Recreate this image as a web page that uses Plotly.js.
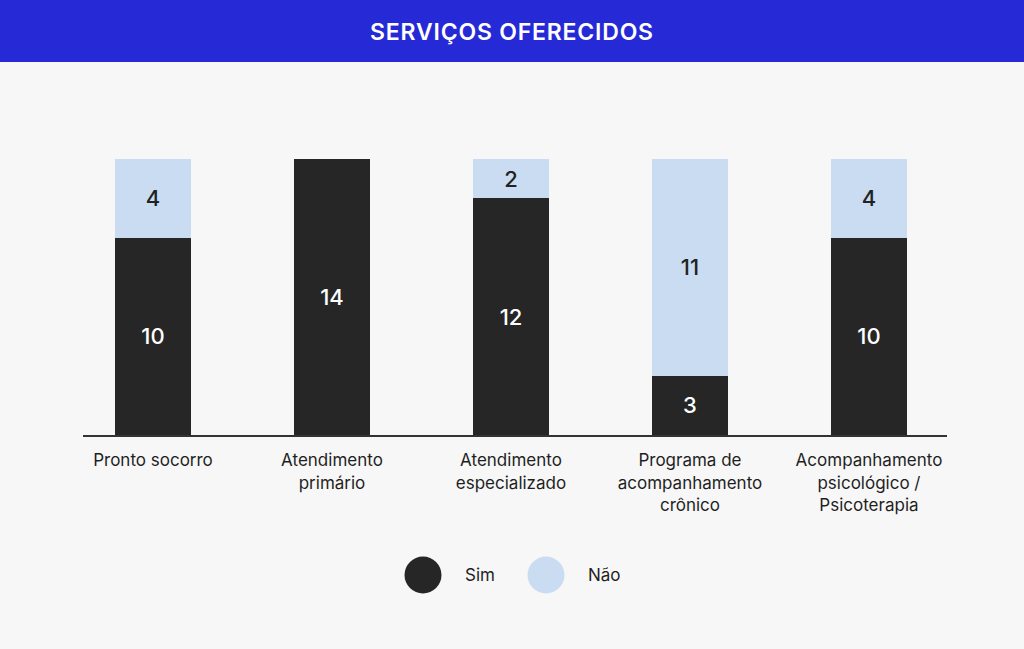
<!DOCTYPE html>
<html>
<head>
<meta charset="utf-8">
<script src="https://cdn.plot.ly/plotly-3.0.1.min.js"></script>
<style>html,body{margin:0;padding:0;background:#f7f7f7;}#chart{width:1024px;height:649px;}
.gtitle{letter-spacing:0.8px;}</style>
</head>
<body>
<div id="chart"></div>
<script>
const categories = ["Pronto socorro", "Atendimento<br>primário", "Atendimento<br>especializado", "Programa de<br>acompanhamento<br>crônico", "Acompanhamento<br>psicológico /<br>Psicoterapia"];
const sim = [10, 14, 12, 3, 10];
const nao = [4, 0, 2, 11, 4];
const seriesNames = ["Sim", "Não"];
const titleText = "SERVIÇOS OFERECIDOS";

const W = 1024, H = 649;
const L = 83, R = 77, T = 159, B = 214;
const pw = W - L - R, ph = H - T - B;
const px2x = p => (p - L) / pw;
const py2y = p => (H - B - p) / ph;

const FONT = "Inter, 'Open Sans', sans-serif";
const dark = "#262626", light = "#c9dcf1";
const idx = categories.map((_, i) => i);

const traces = [
  {type: "bar", x: idx, y: sim, name: seriesNames[0], marker: {color: dark},
   width: 0.425, text: sim.map(v => v ? String(v) : ""), textposition: "inside",
   insidetextanchor: "middle", textangle: 0,
   textfont: {color: "#ffffff", size: 22, family: FONT, weight: 500}, hoverinfo: "none"},
  {type: "bar", x: idx, y: nao, name: seriesNames[1], marker: {color: light},
   width: 0.425, text: nao.map(v => v ? String(v) : ""), textposition: "inside",
   insidetextanchor: "middle", textangle: 0,
   textfont: {color: "#222222", size: 22, family: FONT, weight: 500}, hoverinfo: "none"}
];

const legendItems = [
  {cx: 423, cy: 575, color: dark, label: seriesNames[0], tx: 463},
  {cx: 546, cy: 575, color: light, label: seriesNames[1], tx: 586}
];
const r = 18.5;
const shapes = [
  {type: "rect", xref: "paper", yref: "paper", x0: px2x(0), x1: px2x(W), y0: py2y(62), y1: py2y(0),
   fillcolor: "#2629d6", line: {width: 0}, layer: "below"}
];
const annotations = [];
legendItems.forEach(it => {
  shapes.push({type: "circle", xref: "paper", yref: "paper",
    x0: px2x(it.cx - r), x1: px2x(it.cx + r), y0: py2y(it.cy + r), y1: py2y(it.cy - r),
    fillcolor: it.color, line: {width: 0}});
  annotations.push({xref: "paper", yref: "paper", x: px2x(it.tx), y: py2y(it.cy),
    xanchor: "left", yanchor: "middle", showarrow: false, text: it.label,
    font: {family: FONT, size: 17, color: "#1f1f1f"}});
});

const layout = {
  width: W, height: H,
  margin: {l: L, r: R, t: T, b: B, pad: 0},
  paper_bgcolor: "#f7f7f7", plot_bgcolor: "#f7f7f7",
  barmode: "stack",
  showlegend: false,
  title: {text: titleText, x: 0.5, xanchor: "center", y: 1 - 32 / H, yanchor: "middle",
          yref: "container", font: {family: FONT, size: 23, color: "#ffffff", weight: 600}},
  xaxis: {range: [-0.391, 4.436], tickvals: idx, ticktext: categories, showgrid: false,
          zeroline: false, showline: true, linecolor: "#333333", linewidth: 2, ticks: "",
          tickfont: {family: FONT, size: 17, color: "#1f1f1f"}, ticklabelstandoff: 9,
          fixedrange: true},
  yaxis: {range: [0, 14], visible: false, showgrid: false, zeroline: false, fixedrange: true},
  shapes: shapes,
  annotations: annotations,
  font: {family: FONT}
};

Plotly.newPlot("chart", traces, layout, {displayModeBar: false, staticPlot: true});
</script>
</body>
</html>
